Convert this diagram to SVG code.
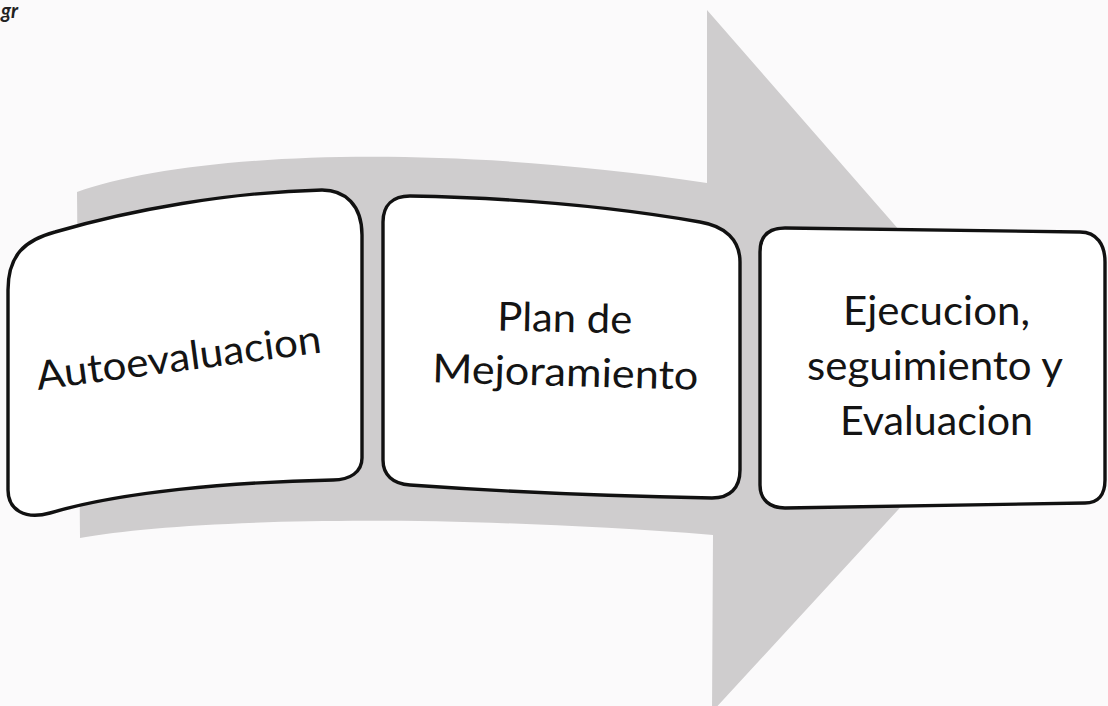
<svg xmlns="http://www.w3.org/2000/svg" width="1108" height="706" viewBox="0 0 1108 706">
<style>
  .box { fill: #ffffff; stroke: #111111; stroke-width: 3.4; stroke-linejoin: round; }
  .lbl { font-family: Lato, "Open Sans", "Liberation Sans", sans-serif; font-size: 40px; fill: #141414; }
  .arrow { fill: #cfcdce; }
</style>
<rect width="1108" height="706" fill="#fbfafb"/>
<text x="1" y="18" font-family="Lato, 'Liberation Sans', sans-serif" font-size="20" font-style="italic" font-weight="bold" fill="#222">gr</text>
<g id="connectors">
  <path class="arrow" d="M 77,192 C 180,155 420,140 707,183 L 707,10 L 1024,373 L 712,712 L 713,535 C 420,512 180,520 80,538 Z"/>
</g>
<g id="node-autoevaluacion">
  <path class="box" d="M 8,290 C 8,255 25,240 55,232 C 130,210 230,192 322,190 C 345,190 362,205 362,235 L 362,458 C 362,472 350,480 333,480 C 230,482 120,492 50,513 C 25,520 8,510 8,490 Z"/>
  <text class="lbl" x="38" y="390" transform="rotate(-7.5 38 390)" textLength="287" lengthAdjust="spacingAndGlyphs">Autoevaluacion</text>
</g>
<g id="node-plan">
  <path class="box" d="M 383,222 C 383,205 393,196 410,196 C 520,198 620,208 700,222 C 725,226 740,240 740,262 L 740,470 C 740,488 730,498 712,498 C 600,496 480,490 410,485 C 393,484 383,475 383,460 Z"/>
  <text class="lbl" x="497" y="332" transform="rotate(1.2 565 330)" textLength="135" lengthAdjust="spacingAndGlyphs">Plan de</text>
  <text class="lbl" x="432" y="386" transform="rotate(1.6 565 386)" textLength="266" lengthAdjust="spacingAndGlyphs">Mejoramiento</text>
</g>
<g id="node-ejecucion">
  <path class="box" d="M 760,252 C 760,236 768,228 785,228 L 1080,232 C 1097,232 1105,245 1105,262 L 1105,480 C 1105,495 1098,503 1085,503 L 785,508 C 770,508 760,500 760,485 Z"/>
  <text class="lbl" x="843" y="325" textLength="187" lengthAdjust="spacingAndGlyphs">Ejecucion,</text>
  <text class="lbl" x="807" y="380" textLength="256" lengthAdjust="spacingAndGlyphs">seguimiento y</text>
  <text class="lbl" x="840" y="435" textLength="193" lengthAdjust="spacingAndGlyphs">Evaluacion</text>
</g>
</svg>
